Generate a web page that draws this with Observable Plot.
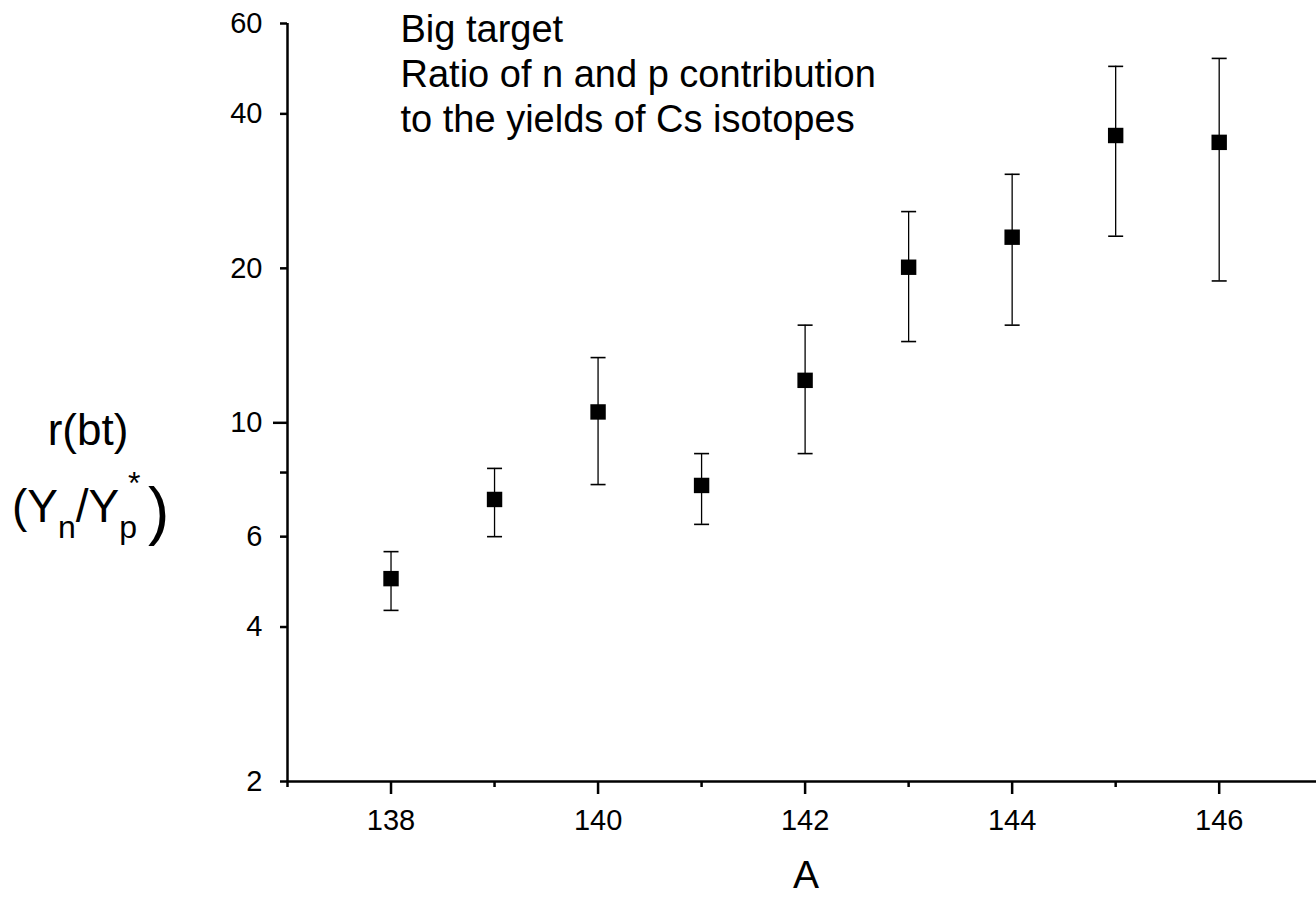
<!DOCTYPE html>
<html><head><meta charset="utf-8">
<script src="https://cdn.jsdelivr.net/npm/d3@7"></script>
<script src="https://cdn.jsdelivr.net/npm/@observablehq/plot@0.6"></script>
<style>
body{margin:0;background:#fff;}
#chart{position:relative;width:1316px;height:897px;overflow:hidden;}
</style>
</head><body><div id="chart"></div>
<script>
const massNumbers = [138, 139, 140, 141, 142, 143, 144, 145, 146];
const ratioValues = [4.97, 7.09, 10.5, 7.55, 12.1, 20.1, 23.0, 36.3, 35.2];
const upperValues = [5.61, 8.15, 13.4, 8.71, 15.5, 25.8, 30.5, 49.5, 51.3];
const lowerValues = [4.31, 6.0, 7.58, 6.34, 8.71, 14.4, 15.5, 23.1, 18.9];
const yTicks = [2, 4, 6, 8, 10, 20, 40, 60];
const yMajorTicks = [10];
const yMinorTicks = [2, 4, 6, 8, 20, 40, 60];
const xMajorTicks = [138, 140, 142, 144, 146];
const xMinorTicks = [137, 139, 141, 143, 145];
const noteLines = ["Big target", "Ratio of n and p contribution", "to the yields of Cs isotopes"];
const xLabel = "A";
const yLabelTop = "r(bt)";
const yLabelParts = ["(Y", "n", "/Y", "p", "*", ")"];

const rows = massNumbers.map((a, i) => ({A: a, r: ratioValues[i], hi: upperValues[i], lo: lowerValues[i]}));
const capSymbol = {draw(ctx) { ctx.moveTo(-7.5, 0); ctx.lineTo(7.5, 0); }};
const font = "'Liberation Sans', Arial, sans-serif";

const plot = Plot.plot({
  width: 1316, height: 897,
  marginLeft: 287, marginRight: 0, marginTop: 23, marginBottom: 116,
  style: {fontFamily: font, fontSize: "29px", background: "white", color: "black", overflow: "visible"},
  x: {domain: [137, 146.94]},
  y: {type: "log", domain: [2, 60]},
  marks: [
    Plot.axisY({ticks: yTicks, tickSize: 0, tickPadding: 25, tickFormat: d => String(d), fontSize: 29, label: null}),
    Plot.axisY({ticks: yMajorTicks, tickSize: 14, text: null, strokeWidth: 2.5, label: null}),
    Plot.axisY({ticks: yMinorTicks, tickSize: 7, text: null, strokeWidth: 2.5, label: null}),
    Plot.axisX({ticks: xMajorTicks, tickSize: 13, tickPadding: 15, tickFormat: d => String(d), fontSize: 29, strokeWidth: 2.5, label: null}),
    Plot.axisX({ticks: xMinorTicks, tickSize: 6, text: null, strokeWidth: 2.5, label: null}),
    Plot.ruleX([137], {strokeWidth: 2.5}),
    Plot.ruleY([2], {strokeWidth: 2.5}),
    Plot.ruleX(rows, {x: "A", y1: "lo", y2: "hi", strokeWidth: 1.3}),
    Plot.dot(rows, {x: "A", y: "hi", symbol: capSymbol, stroke: "black", fill: "none", strokeWidth: 1.6}),
    Plot.dot(rows, {x: "A", y: "lo", symbol: capSymbol, stroke: "black", fill: "none", strokeWidth: 1.6}),
    Plot.dot(rows, {x: "A", y: "r", symbol: "square", r: 8.7, fill: "black", stroke: "none"}),
    Plot.text([noteLines.join("\n")], {frameAnchor: "top-left", textAnchor: "start", lineAnchor: "top", dx: 113, dy: -13, fontSize: 38, lineHeight: 1.18}),
    Plot.text([xLabel], {frameAnchor: "bottom", lineAnchor: "top", dx: 4, dy: 79, fontSize: 39})
  ]
});

const svg = d3.select(plot);
const g = svg.append("g").attr("font-family", font).attr("fill", "black").attr("text-anchor", "start");
g.append("text").attr("x", 88).attr("y", 445).attr("text-anchor", "middle").attr("font-size", 44).text(yLabelTop);
const t = g.append("text").attr("x", 12).attr("y", 522).attr("font-size", 46);
t.append("tspan").text(yLabelParts[0]);
t.append("tspan").attr("font-size", 32).attr("dy", 16).text(yLabelParts[1]);
t.append("tspan").attr("dy", -16).text(yLabelParts[2]);
t.append("tspan").attr("font-size", 32).attr("dy", 16).text(yLabelParts[3]);
g.append("text").attr("x", 128).attr("y", 494).attr("font-size", 32).text(yLabelParts[4]);
g.append("text").attr("x", 148).attr("y", 533).attr("font-size", 64).text(yLabelParts[5]);

document.getElementById("chart").appendChild(plot);
</script>
</body></html>
